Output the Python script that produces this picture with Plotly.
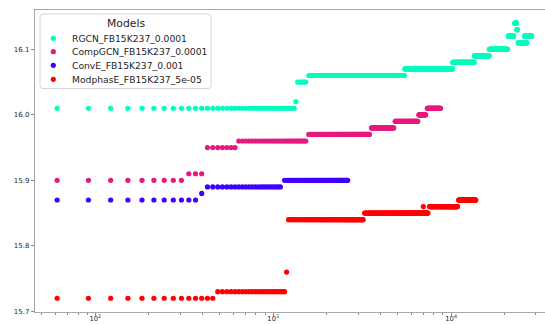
import numpy as np
import plotly.graph_objects as go

# Evaluation steps (shared sampling grid for every model)
step_size = 30.5
steps = np.arange(2, 1000) * step_size

# Each model: level segments (first step, last step, score)
rgcn_start = [61, 1342, 1372, 1556, 5480, 10200, 13500, 16400, 21000, 22800, 23450, 23880, 25940]
rgcn_end = [1312, 1343, 1526, 5479, 10199, 13499, 16399, 20800, 22490, 23380, 23550, 26600, 28380]
rgcn_score = [16.01, 16.02, 16.05, 16.06, 16.07, 16.08, 16.09, 16.10, 16.12, 16.14, 16.13, 16.11, 16.12]

compgcn_start = [61, 335, 427, 640, 1580, 3560, 4840, 6580, 7330]
compgcn_end = [306, 397, 611, 1545, 3490, 4765, 6500, 7210, 8750]
compgcn_score = [15.90, 15.91, 15.95, 15.96, 15.97, 15.98, 15.99, 16.00, 16.01]

conve_start = [61, 396, 427, 1130]
conve_end = [367, 397, 1104, 2630]
conve_score = [15.87, 15.88, 15.89, 15.90]

modphase_start = [61, 488, 1189, 1220, 3260, 6960, 7560, 11040]
modphase_end = [458, 1160, 1190, 3220, 7430, 7000, 10860, 13770]
modphase_score = [15.72, 15.73, 15.76, 15.84, 15.85, 15.86, 15.86, 15.87]

model_names = ["RGCN_FB15K237_0.0001", "CompGCN_FB15K237_0.0001",
               "ConvE_FB15K237_0.001", "ModphasE_FB15K237_5e-05"]
model_colors = ["#00FFBF", "#E6197E", "#3F00FF", "#FF0000"]
segments = [
    (rgcn_start, rgcn_end, rgcn_score),
    (compgcn_start, compgcn_end, compgcn_score),
    (conve_start, conve_end, conve_score),
    (modphase_start, modphase_end, modphase_score),
]

x_ticks = [100, 1000, 10000]
x_tick_text = ["10<sup>2</sup>", "10<sup>3</sup>", "10<sup>4</sup>"]
x_minor = [50, 60, 70, 80, 90, 200, 300, 400, 500, 600, 700, 800, 900,
           2000, 3000, 4000, 5000, 6000, 7000, 8000, 9000, 20000, 30000]
y_ticks = [15.7, 15.8, 15.9, 16.0, 16.1]


def expand(starts, ends, scores):
    xs, ys = [], []
    for s, e, v in zip(starts, ends, scores):
        sel = steps[(steps >= s - 1e-6) & (steps <= e + 1e-6)]
        xs.extend(sel.tolist())
        ys.extend([v] * len(sel))
    return xs, ys


fig = go.Figure()
for name, color, seg in zip(model_names, model_colors, segments):
    xs, ys = expand(*seg)
    fig.add_trace(go.Scatter(
        x=xs, y=ys, mode="markers", name=name, showlegend=False,
        marker=dict(color=color, size=5.2, line=dict(width=0)),
    ))

W, H = 545, 325
L, R, T, B = 35, 0, 10, 13
pw, ph = W - L - R, H - T - B


def px(x):
    return (x - L) / pw


def py(y):
    return (H - B - y) / ph


# Legend box drawn as a rounded rectangle in pixel space
bx0, bx1, by0, by1, rad = 40, 211, 14, 88.5, 3
path = (f"M {px(bx0 + rad)},{py(by0)} L {px(bx1 - rad)},{py(by0)} "
        f"Q {px(bx1)},{py(by0)} {px(bx1)},{py(by0 + rad)} "
        f"L {px(bx1)},{py(by1 - rad)} Q {px(bx1)},{py(by1)} {px(bx1 - rad)},{py(by1)} "
        f"L {px(bx0 + rad)},{py(by1)} Q {px(bx0)},{py(by1)} {px(bx0)},{py(by1 - rad)} "
        f"L {px(bx0)},{py(by0 + rad)} Q {px(bx0)},{py(by0)} {px(bx0 + rad)},{py(by0)} Z")
shapes = [dict(type="path", xref="paper", yref="paper", path=path,
               fillcolor="rgba(255,255,255,0.85)", line=dict(color="#d6d6d6", width=1))]
annotations = [dict(text="Models", xref="paper", yref="paper", x=px(125.5), y=py(23),
                    xanchor="center", yanchor="middle", showarrow=False,
                    font=dict(size=10.8, color="#262626", family="DejaVu Sans"))]
row_y = [38.3, 51.7, 65.3, 79.3]
for name, color, ry in zip(model_names, model_colors, row_y):
    shapes.append(dict(type="circle", xref="paper", yref="paper",
                       xsizemode="pixel", ysizemode="pixel",
                       xanchor=px(53.3), yanchor=py(ry),
                       x0=-2.6, x1=2.6, y0=-2.6, y1=2.6,
                       fillcolor=color, line=dict(width=0)))
    annotations.append(dict(text=name, xref="paper", yref="paper", x=px(69.5), y=py(ry),
                            xanchor="left", yanchor="middle", showarrow=False,
                            font=dict(size=9.2, color="#262626", family="DejaVu Sans")))

axis_line = "#a8a8a8"
fig.update_layout(
    width=W, height=H,
    margin=dict(l=L, r=R, t=T, b=B, autoexpand=False),
    paper_bgcolor="white", plot_bgcolor="white",
    font=dict(family="DejaVu Sans", color="#262626"),
    shapes=shapes, annotations=annotations,
    showlegend=False,
    xaxis=dict(
        type="log", range=[1.661, 4.528], showgrid=False, zeroline=False,
        showline=True, linecolor=axis_line, linewidth=1.3, mirror=True,
        ticks="outside", ticklen=3, tickcolor="#8a8a8a", tickwidth=1,
        tickmode="array", tickvals=x_ticks, ticktext=x_tick_text,
        ticklabelstandoff=-3,
        tickfont=dict(size=6.8, family="DejaVu Sans", color="#262626"),
        minor=dict(tickmode="array", tickvals=x_minor, ticks="outside",
                   ticklen=2, tickcolor="#8a8a8a", tickwidth=0.8, showgrid=False),
        automargin=False,
    ),
    yaxis=dict(
        range=[15.699, 16.16], showgrid=False, zeroline=False,
        showline=True, linecolor=axis_line, linewidth=1.3,
        ticks="outside", ticklen=3, tickcolor="#8a8a8a", tickwidth=1,
        tickmode="array", tickvals=y_ticks, tickformat=".1f",
        tickfont=dict(size=7, family="DejaVu Sans", color="#262626"),
        automargin=False,
    ),
)

fig.write_html("out.html")
